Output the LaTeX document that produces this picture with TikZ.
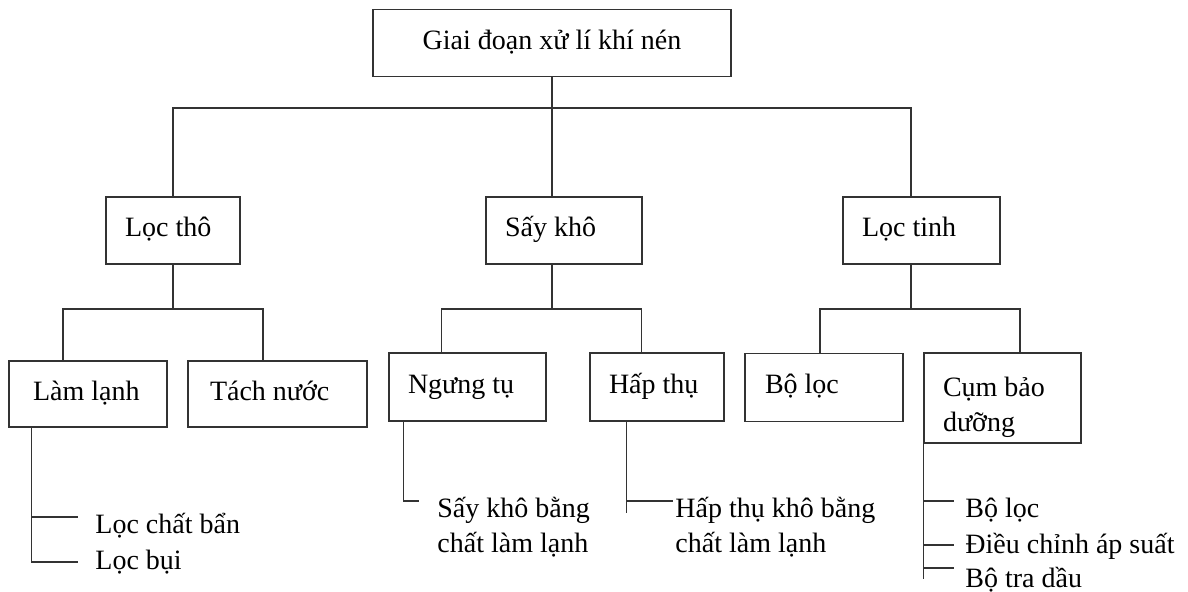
\documentclass[tikz,border=0pt]{standalone}
\usepackage{fontspec}
\setmainfont{Liberation Serif}
\newcommand\diafont{\fontsize{14pt}{17.5pt}\selectfont}
\begin{document}
\begin{tikzpicture}[x=0.5pt, y=-0.5pt,
  ln/.style={draw=black!80, line width=0.7pt},
  bxbase/.style={draw=black!80, line width=0.7pt, rectangle, inner ysep=0pt, align=flush left, font=\diafont},
  bx/.style={bxbase, text height=10pt, text depth=3.5pt},
  leaf/.style={inner sep=0pt, anchor=base west, align=flush left, text width=130pt, font=\diafont}]
\useasboundingbox (0,0) rectangle (1188,592);

% boxes
\node[bx, align=center, inner xsep=0pt, minimum width=179pt, minimum height=33.5pt] (root) at (552,43) {Giai đoạn xử lí khí nén};

\node[bx, minimum width=67pt,   minimum height=33.5pt, text width=48pt,   inner xsep=9.5pt] (lt)  at (173,230.5)   {Lọc~thô};
\node[bx, minimum width=78pt,   minimum height=33.5pt, text width=59pt,   inner xsep=9.5pt] (sk)  at (564,230.5)   {Sấy~khô};
\node[bx, minimum width=78.5pt, minimum height=33.5pt, text width=59.5pt, inner xsep=9.5pt] (ltn) at (921.5,230.5) {Lọc~tinh};

\node[bx, minimum width=79pt,   minimum height=33pt, text width=55pt,   inner xsep=12pt]  (ll) at (88,394)    {Làm~lạnh};
\node[bx, minimum width=89.5pt, minimum height=33pt, text width=67.5pt, inner xsep=11pt]  (tn) at (277.5,394) {Tách~nước};
\node[bx, minimum width=78.5pt, minimum height=34pt, text width=59.5pt, inner xsep=9.5pt] (nt) at (467.5,387) {Ngưng~tụ};
\node[bx, minimum width=67pt,   minimum height=34pt, text width=48pt,   inner xsep=9.5pt] (ht) at (657,387)   {Hấp~thụ};
\node[bx, minimum width=79pt,   minimum height=34pt, text width=59pt,   inner xsep=10pt]  (bl) at (824,387.5) {Bộ~lọc};
\node[bxbase, minimum width=78.5pt, minimum height=45pt, text width=59.5pt, inner xsep=9.5pt, text height=12pt, text depth=13pt] (cb) at (1002.5,398) {Cụm~bảo\\dưỡng};

% leaf texts
\node[leaf] (lcb)  at (95,533)  {Lọc chất bẩn};
\node[leaf] (lbui) at (95,569)  {Lọc bụi};
\node[leaf] (skb)  at (437,517) {Sấy khô bằng\\chất làm lạnh};
\node[leaf] (htk)  at (675,517) {Hấp thụ khô bằng\\chất làm lạnh};
\node[leaf] (cbl)  at (965,517) {Bộ lọc};
\node[leaf] (dc)   at (965,553) {Điều chỉnh áp suất};
\node[leaf] (btd)  at (965,588) {Bộ tra dầu};

% junction coordinates
\coordinate (bus1)  at (552,108);
\coordinate (bus2a) at (173,309);
\coordinate (bus2b) at (552,309);
\coordinate (bus2c) at (911,309);
\coordinate (elcb)  at (78,517);
\coordinate (elbui) at (78,562);
\coordinate (eskb)  at (419,501);
\coordinate (ehtk)  at (673,501);
\coordinate (ecb1)  at (954,501);
\coordinate (ecb2)  at (954,545);
\coordinate (ecb3)  at (954,568);

% level 1
\draw[ln] (root.south) -- (root.south |- sk.north);
\draw[ln] (lt.north) |- (bus1) -| ([xshift=-5.25pt]ltn.north);

% level 2
\draw[ln] (lt.south) -- (bus2a);
\draw[ln] ([xshift=-12.5pt]ll.north) |- (bus2a) -| ([xshift=-7.25pt]tn.north);
\draw[ln] ([xshift=-6pt]sk.south) -- (bus2b);
\draw[ln] ([xshift=-13pt]nt.north) |- (bus2b) -| ([xshift=-7.65pt]ht.north);
\draw[ln] ([xshift=-5.25pt]ltn.south) -- (bus2c);
\draw[ln] ([xshift=-2pt]bl.north) |- (bus2c) -| ([xshift=8.75pt]cb.north);

% level 3 leaves
\coordinate (lltrunk) at ([xshift=11.5pt]ll.south west);
\draw[ln] (lltrunk) |- (elbui);
\draw[ln] (lltrunk |- elcb) -- (elcb);

\coordinate (nttrunk) at ([xshift=7.5pt]nt.south west);
\draw[ln] (nttrunk) |- (eskb);

\coordinate (httrunk) at ([xshift=18.5pt]ht.south west);
\draw[ln] (httrunk) -- ++(0,91);
\draw[ln] (httrunk |- ehtk) -- (ehtk);

\draw[ln] (cb.south west) -- ++(0,135);
\draw[ln] (cb.south west |- ecb1) -- (ecb1);
\draw[ln] (cb.south west |- ecb2) -- (ecb2);
\draw[ln] (cb.south west |- ecb3) -- (ecb3);
\end{tikzpicture}
\end{document}
